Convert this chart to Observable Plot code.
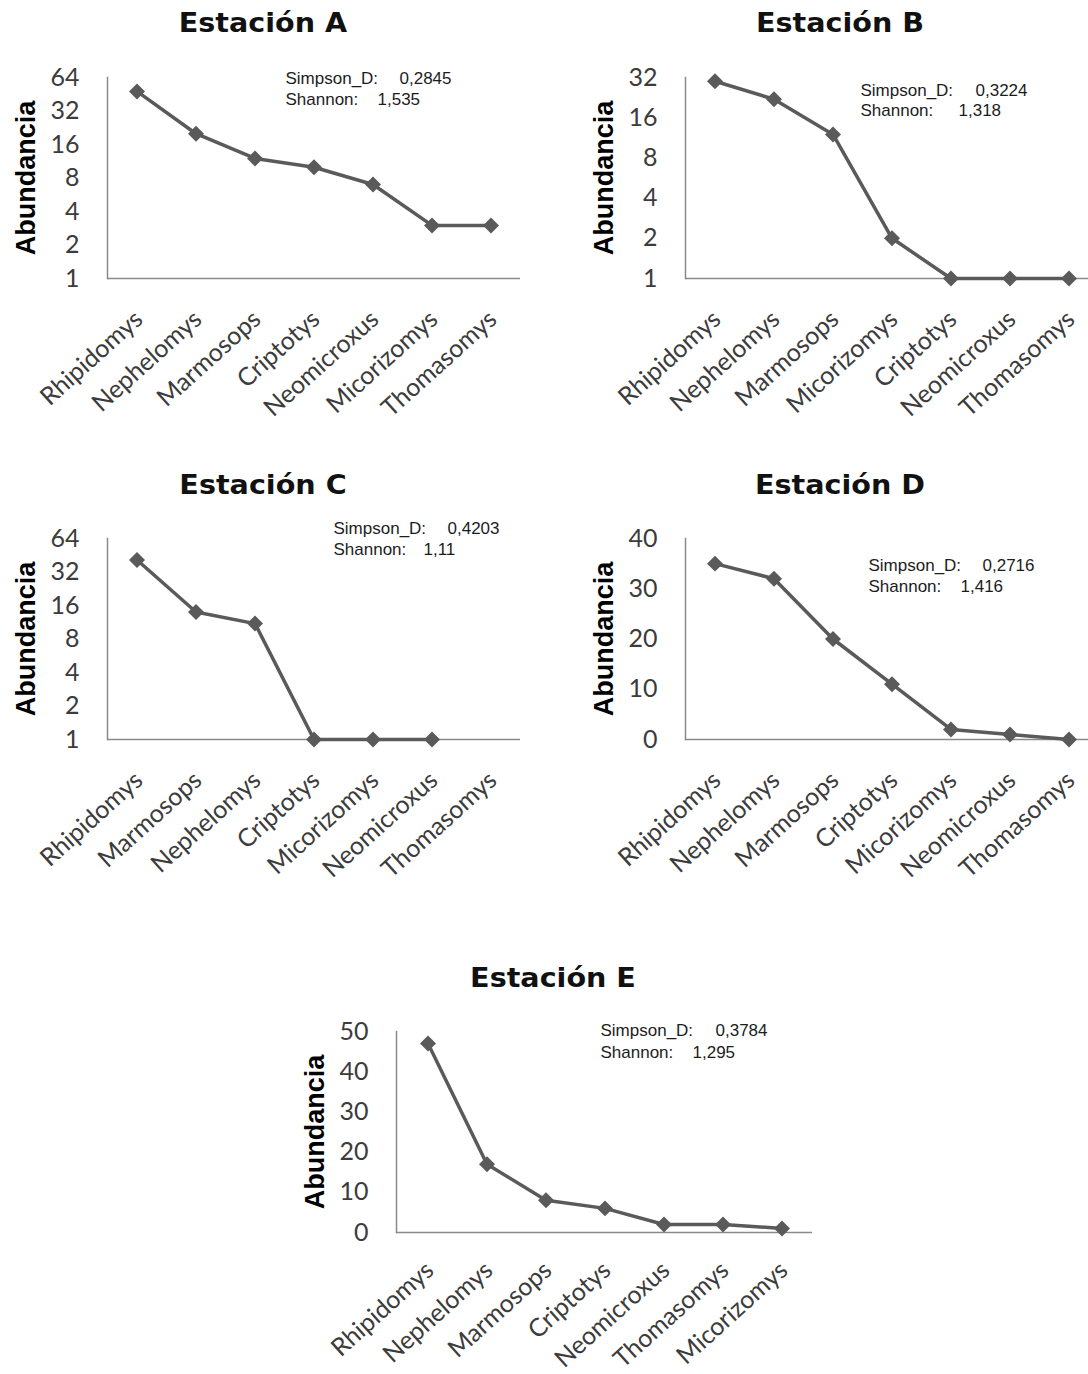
<!DOCTYPE html>
<html><head><meta charset="utf-8">
<script src="https://cdn.jsdelivr.net/npm/d3@7"></script>
<script src="https://cdn.jsdelivr.net/npm/@observablehq/plot@0.6"></script>
<style>
body{margin:0;background:#fff;}
#page{position:relative;width:1088px;height:1374px;overflow:hidden;background:#fff;}
.title{position:absolute;font-family:"DejaVu Sans";font-weight:bold;font-size:26px;color:#111;white-space:nowrap;transform:translateX(-50%) scaleX(1.1);line-height:1;}
.panel{position:absolute;}
.panel svg{overflow:visible;max-width:none !important;}
</style></head><body><div id="page"></div>
<script>
// ---- data ----
const stationNames = ["Estación A","Estación B","Estación C","Estación D","Estación E"];
const speciesA = ["Rhipidomys","Nephelomys","Marmosops","Criptotys","Neomicroxus","Micorizomys","Thomasomys"];
const abundA   = [48,20,12,10,7,3,3];
const speciesB = ["Rhipidomys","Nephelomys","Marmosops","Micorizomys","Criptotys","Neomicroxus","Thomasomys"];
const abundB   = [30,22,12,2,1,1,1];
const speciesC = ["Rhipidomys","Marmosops","Nephelomys","Criptotys","Micorizomys","Neomicroxus","Thomasomys"];
const abundC   = [41,14,11,1,1,1,0];
const speciesD = ["Rhipidomys","Nephelomys","Marmosops","Criptotys","Micorizomys","Neomicroxus","Thomasomys"];
const abundD   = [35,32,20,11,2,1,0];
const speciesE = ["Rhipidomys","Nephelomys","Marmosops","Criptotys","Neomicroxus","Thomasomys","Micorizomys"];
const abundE   = [47,17,8,6,2,2,1];
const simpsonD = ["0,2845","0,3224","0,4203","0,2716","0,3784"];
const shannonH = ["1,535","1,318","1,11","1,416","1,295"];
const ticksLog64 = [1,2,4,8,16,32,64];
const ticksLog32 = [1,2,4,8,16,32];
const ticksLin40 = [0,10,20,30,40];
const ticksLin50 = [0,10,20,30,40,50];

const species = [speciesA,speciesB,speciesC,speciesD,speciesE];
const abund = [abundA,abundB,abundC,abundD,abundE];

// ---- layout (positions / styles) ----
const layout = [
  {left:0,   top:0,    width:540, ml:107, mr:20,  tx:263, ty:10,  pad:37, type:"log", domain:[1,64], ticks:ticksLog64,
   st:{lx:178, l1:1,  l2:22, v1:292, v2:270}},
  {left:540, top:0,    width:568, ml:145, mr:10,  tx:840, ty:10,  pad:37, type:"log", domain:[1,32], ticks:ticksLog32,
   st:{lx:175, l1:13, l2:33, v1:290, v2:273}},
  {left:0,   top:461,  width:540, ml:107, mr:20,  tx:263, ty:472, pad:37, type:"log", domain:[1,64], ticks:ticksLog64,
   st:{lx:226, l1:-10, l2:11, v1:340, v2:316}},
  {left:540, top:461,  width:568, ml:145, mr:10,  tx:840, ty:472, pad:37, type:"lin", domain:[0,40], ticks:ticksLin40,
   st:{lx:183, l1:27, l2:48, v1:297, v2:275}},
  {left:290, top:954,  width:542, ml:106, mr:20,  tx:553, ty:965, pad:34, type:"lin", domain:[0,50], ticks:ticksLin50,
   st:{lx:204, l1:-1, l2:21, v1:319, v2:296}}
];

const page = document.getElementById("page");
const GRAY = "#5a5a5a", AXIS = "#8a8a8a", TICK = "#3c3c3c";

layout.forEach((L, i) => {
  const data = species[i].map((s, j) => ({s, n: abund[i][j]}));
  const shown = L.type === "log" ? data.filter(d => d.n > 0) : data;
  const base = L.type === "log" ? 1 : 0;
  const statFont = {fontFamily:"Liberation Sans", fontSize:17, fill:"#1c1c1c", textAnchor:"start", lineAnchor:"middle", frameAnchor:"top-left", text: d => d};
  const svg = Plot.plot({
    width: L.width, height: 420,
    marginLeft: L.ml, marginRight: L.mr, marginTop: 77, marginBottom: 142,
    style: {background: "transparent"},
    x: {type: "band", domain: species[i], padding: 0},
    y: L.type === "log" ? {type: "log", base: 2, domain: L.domain} : {type: "linear", domain: L.domain},
    marks: [
      Plot.ruleY([base], {stroke: AXIS, strokeWidth: 1.5}),
      Plot.frame({anchor: "left", stroke: AXIS, strokeWidth: 1.5}),
      Plot.axisY({ticks: L.ticks, tickSize: 0, tickPadding: 28, tickFormat: d => String(d),
                  fontSize: 25, fontFamily: "Lato", color: TICK, label: null}),
      Plot.axisX({tickSize: 0, tickPadding: L.pad, tickRotate: -42, dx: 2,
                  fontSize: 25, fontFamily: "Lato", color: TICK, label: null}),
      Plot.lineY(shown, {x: "s", y: "n", stroke: GRAY, strokeWidth: 3.5}),
      Plot.dot(shown, {x: "s", y: "n", symbol: "diamond2", r: 7.2, fill: GRAY, stroke: "none"}),
      Plot.text(["Abundancia"], {frameAnchor: "left", rotate: -90, dx: -81, text: d => d,
                  fontSize: 27, fontWeight: "bold", fontFamily: "Liberation Sans", fill: "#000",
                  textAnchor: "middle", lineAnchor: "middle"}),
      Plot.text(["Simpson_D:"], {...statFont, dx: L.st.lx, dy: L.st.l1}),
      Plot.text(["Shannon:"], {...statFont, dx: L.st.lx, dy: L.st.l2}),
      Plot.text([simpsonD[i]], {...statFont, dx: L.st.v1, dy: L.st.l1}),
      Plot.text([shannonH[i]], {...statFont, dx: L.st.v2, dy: L.st.l2})
    ]
  });
  const wrap = document.createElement("div");
  wrap.className = "panel";
  wrap.style.left = L.left + "px";
  wrap.style.top = L.top + "px";
  wrap.style.width = L.width + "px";
  wrap.style.height = "420px";
  wrap.appendChild(svg);
  page.appendChild(wrap);

  const t = document.createElement("div");
  t.className = "title";
  t.textContent = stationNames[i];
  t.style.left = L.tx + "px";
  t.style.top = L.ty + "px";
  page.appendChild(t);
});
</script></body></html>
